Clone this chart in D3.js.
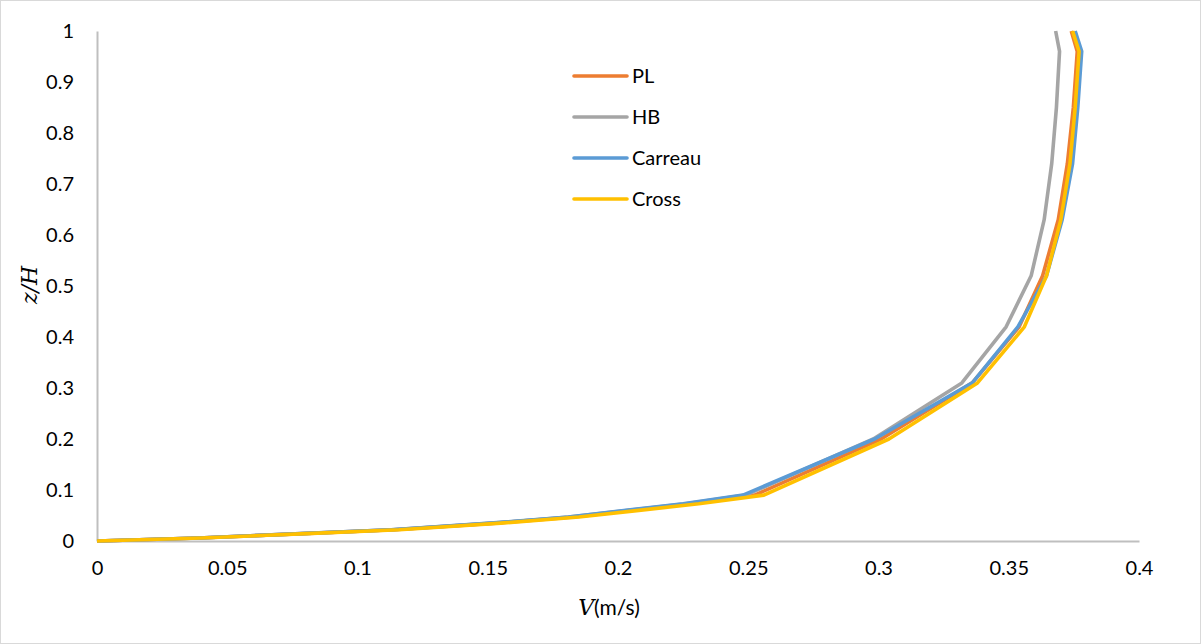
<!DOCTYPE html>
<html>
<head>
<meta charset="utf-8">
<script src="https://cdn.jsdelivr.net/npm/d3@7"></script>
<style>
  html, body { margin: 0; padding: 0; background: #fff; }
  svg { display: block; }
  .tick text { font-family: Lato, "Open Sans", sans-serif; font-size: 20px; fill: #000; }
</style>
</head>
<body>
<svg id="chart" width="1201" height="644"></svg>
<script>
// Dimensionless height z/H shared by all velocity profiles
const zLevels = [0, 0.006, 0.014, 0.022, 0.035, 0.047, 0.06, 0.073, 0.09, 0.2, 0.31, 0.42, 0.52, 0.63, 0.74, 0.85, 0.96, 1.0];

// Velocity V (m/s) at each height for the four rheology models
const vPL      = [0, 0.039, 0.077, 0.114, 0.153, 0.183, 0.205, 0.228, 0.2525, 0.301, 0.336, 0.354, 0.363, 0.369, 0.3725, 0.3748, 0.3763, 0.3740];
const vHB      = [0, 0.039, 0.076, 0.113, 0.152, 0.181, 0.204, 0.226, 0.249, 0.298, 0.332, 0.349, 0.3586, 0.3636, 0.3665, 0.3683, 0.3695, 0.3680];
const vCarreau = [0, 0.039, 0.076, 0.113, 0.151, 0.181, 0.203, 0.225, 0.248, 0.2985, 0.336, 0.3535, 0.3645, 0.3705, 0.3745, 0.3765, 0.3780, 0.3755];
const vCross   = [0, 0.040, 0.078, 0.116, 0.155, 0.185, 0.208, 0.231, 0.256, 0.304, 0.338, 0.356, 0.3645, 0.370, 0.3735, 0.3755, 0.3770, 0.3745];

const seriesNames = ["PL", "HB", "Carreau", "Cross"];
const seriesColors = ["#ED7D31", "#A5A5A5", "#5B9BD5", "#FFC000"];
const seriesValues = [vPL, vHB, vCarreau, vCross];

const xTicks = [0, 0.05, 0.1, 0.15, 0.2, 0.25, 0.3, 0.35, 0.4];
const yTicks = [0, 0.1, 0.2, 0.3, 0.4, 0.5, 0.6, 0.7, 0.8, 0.9, 1];

const svg = d3.select("#chart");

// outer chart frame
svg.append("rect")
  .attr("x", 0.5).attr("y", 0.5)
  .attr("width", 1200).attr("height", 643)
  .attr("fill", "#fff").attr("stroke", "#d9d9d9");

const plot = { left: 97, right: 1139, top: 31, bottom: 541 };

const x = d3.scaleLinear().domain([0, 0.4]).range([plot.left, plot.right]);
const y = d3.scaleLinear().domain([0, 1]).range([plot.bottom, plot.top]);

// x axis
const xAxis = svg.append("g")
  .attr("transform", `translate(0,${plot.bottom})`)
  .call(d3.axisBottom(x).tickValues(xTicks).tickSize(0).tickPadding(20)
        .tickFormat(d => String(+d.toFixed(2))));
xAxis.select(".domain").attr("stroke", "#bfbfbf").attr("stroke-width", 2);

// y axis
const yAxis = svg.append("g")
  .attr("transform", `translate(${plot.left},0)`)
  .call(d3.axisLeft(y).tickValues(yTicks).tickSize(0).tickPadding(23)
        .tickFormat(d => String(+d.toFixed(1))));
yAxis.select(".domain").attr("stroke", "#bfbfbf").attr("stroke-width", 2);

// profile lines
const line = d3.line()
  .x(d => x(d[0]))
  .y(d => y(d[1]));

seriesValues.forEach((vals, i) => {
  const pts = vals.map((v, k) => [v, zLevels[k]]);
  svg.append("path")
    .datum(pts)
    .attr("d", line)
    .attr("fill", "none")
    .attr("stroke", seriesColors[i])
    .attr("stroke-width", 3.6)
    .attr("stroke-linejoin", "round");
});

// legend
const legend = svg.append("g");
seriesNames.forEach((name, i) => {
  const ly = 76 + i * 41;
  legend.append("line")
    .attr("x1", 574).attr("x2", 627)
    .attr("y1", ly).attr("y2", ly)
    .attr("stroke", seriesColors[i]).attr("stroke-width", 3.6)
    .attr("stroke-linecap", "round");
  legend.append("text")
    .attr("x", 632).attr("y", ly)
    .attr("dy", "0.35em")
    .attr("font-family", "Lato, 'Open Sans', sans-serif")
    .attr("font-size", 20)
    .text(name);
});

// axis titles
const xTitle = svg.append("text")
  .attr("x", 609).attr("y", 615)
  .attr("text-anchor", "middle")
  .attr("font-size", 21);
xTitle.append("tspan")
  .attr("font-family", "'DejaVu Serif', 'Liberation Serif', serif")
  .attr("font-style", "italic")
  .attr("font-size", 22)
  .text("V");
xTitle.append("tspan")
  .attr("font-family", "Lato, 'Open Sans', sans-serif")
  .text("(m/s)");

svg.append("text")
  .attr("transform", "translate(37,285) rotate(-90)")
  .attr("text-anchor", "middle")
  .attr("font-family", "'DejaVu Serif', 'Liberation Serif', serif")
  .attr("font-style", "italic")
  .attr("font-size", 22)
  .text("z/H");
</script>
</body>
</html>
